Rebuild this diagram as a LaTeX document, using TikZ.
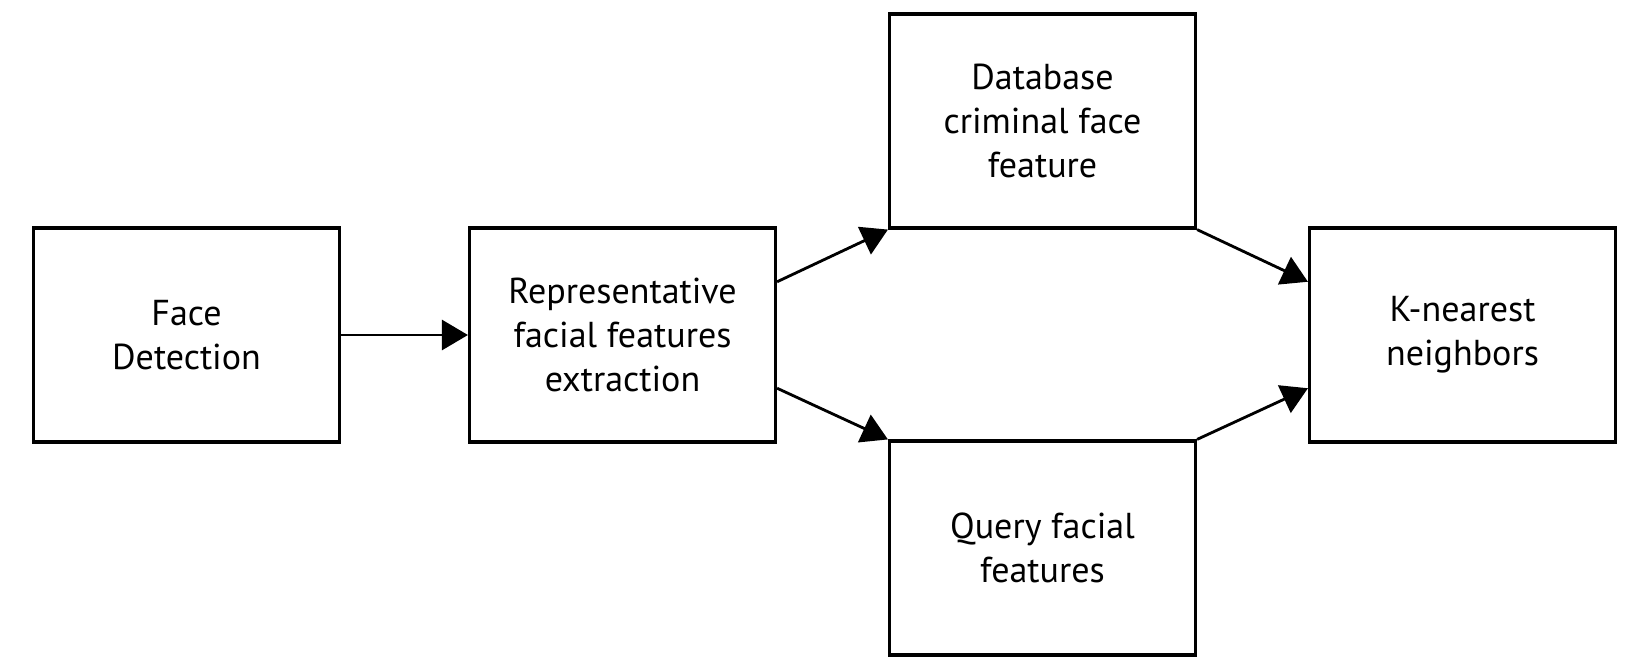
\documentclass[tikz,border=0pt]{standalone}
\usepackage{fontspec}
\setmainfont{PT Sans}
\usetikzlibrary{arrows.meta}

\begin{document}
\begin{tikzpicture}[
    >={Triangle[length=5.2mm, width=6mm]},
    every node/.style={font=\fontsize{20.5}{25}\selectfont},
    % 处理框
    block/.style={
        draw, line width=1.8pt, align=center,
        minimum width=61.2mm, minimum height=42.8mm,
        inner sep=0pt
    },
    % 连线
    link/.style={->, line width=1.6pt},
]

%% ── 画布范围 ─────────────────────────────────────────
\useasboundingbox (0,0) rectangle (33,13.38);

%% ── 处理框（中行 y=6.68，上下行 y=10.96 / 2.42）────
\def\my{6.68}

\node[block] (face)  at ( 3.73, \my)   {Face\\Detection};
\node[block] (rep)   at (12.45, \my)   {Representative\\facial features\\extraction};
\node[block] (db)    at (20.85, 10.96) {Database\\criminal face\\feature};
\node[block] (query) at (20.85, 2.42)  {Query facial\\features};
\node[block] (knn)   at (29.25, \my)   {K-nearest\\neighbors};

%% ── 连线 ─────────────────────────────────────────────
\draw[link] (face.east) -- (rep.west);
\draw[link] (rep.19)  -- (db.south west);
\draw[link] (rep.-19) -- (query.north west);
\draw[link] (db.south east)    -- (knn.161);
\draw[link] (query.north east) -- (knn.-161);

\end{tikzpicture}
\end{document}
